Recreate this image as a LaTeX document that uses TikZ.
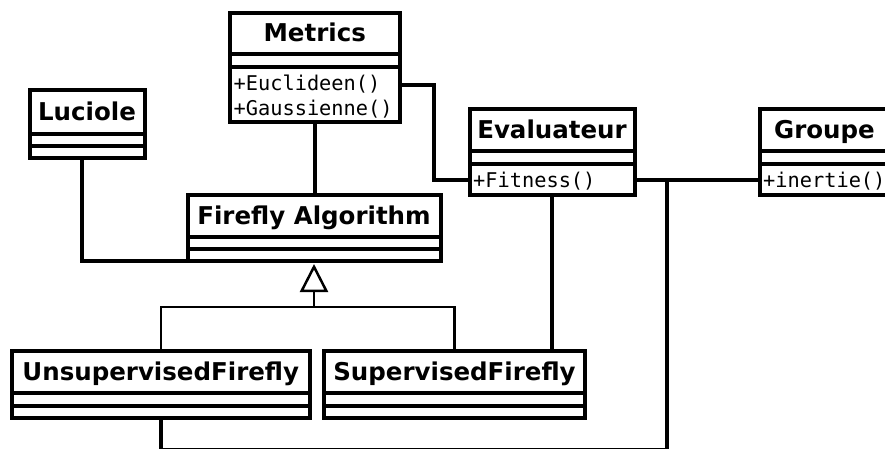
\documentclass[tikz,border=0pt]{standalone}
\usepackage{fontspec}
\usetikzlibrary{arrows.meta,fit}
\newfontfamily\titlefont{DejaVu Sans}
\newfontfamily\codefont{DejaVu Sans Mono}

\tikzset{
  classframe/.style={draw, line width=4pt, inner sep=0pt, outer sep=0pt},
  classname/.style={font=\titlefont\bfseries\fontsize{24.5}{28}\selectfont, inner sep=0pt, anchor=base},
  classop/.style={font=\codefont\fontsize{20.3}{25}\selectfont, inner sep=0pt, anchor=base west},
  assoc/.style={line width=4pt},
  generalization/.style={line width=2.5pt},
}

% UML class: name, left, right, top, name line, attribute line, bottom, title
\newcommand\umlclass[8]{%
  \node[classframe, fit={(#2,#4) (#3,#7)}] (#1) {};
  \draw[line width=4pt] (#2,#5) -- (#3,#5) (#2,#6) -- (#3,#6);
  \node[classname] (#1-name) at ({(#2+#3)/2},{(#4+#5)/2+8.9}) {#8};
}
% operations of a class: name, left, attribute line, list of operations
\newcommand\umlops[4]{%
  \foreach \op [count=\k] in {#4} {
    \node[classop] (#1-op\k) at ({#2+3.5},{#3+23+25*(\k-1)}) {\op};
  }
}

\begin{document}
\begin{tikzpicture}[x=1pt,y=-1pt]
  \useasboundingbox (0,0) rectangle (885,448);
  \clip (0,0) rectangle (885,448);

  \umlclass{metrics}{230}{399.5}{12.5}{53.5}{67}{122}{Metrics}
  \umlops{metrics}{230}{67}{{+Euclideen()},{+Gaussienne()}}

  \umlclass{luciole}{29.5}{144.5}{89.5}{134}{145.5}{158}{Luciole}

  \umlclass{evaluateur}{469.5}{634.5}{109}{151}{164}{194.5}{Evaluateur}
  \umlops{evaluateur}{469.5}{164}{{+Fitness()}}

  \umlclass{groupe}{759.5}{889.5}{109}{151}{164}{194.5}{Groupe}
  \umlops{groupe}{759.5}{164}{{+inertie()}}

  \umlclass{firefly}{187.5}{440.5}{195}{237}{249}{261}{Firefly Algorithm}

  \umlclass{unsup}{12}{309.5}{350.5}{393}{406}{418}{UnsupervisedFirefly}
  \umlclass{sup}{324}{585}{350.5}{393}{406}{418}{SupervisedFirefly}

  % bend points of the associations
  \coordinate (mbend) at (434,85);
  \coordinate (junc) at (667,179.5);
  \coordinate (bot) at (667,449.5);
  \coordinate (gj) at (314,307);

  % associations
  \draw[assoc] (metrics.south) -- (metrics.south |- firefly.north);
  \draw[assoc] ([xshift=-5pt]luciole.south) |- (firefly.south west);
  \draw[assoc] (metrics.east |- mbend) -- (mbend) |- (evaluateur.west |- junc);
  \draw[assoc] (evaluateur.east |- junc) -- (groupe.west |- junc);
  \draw[assoc] (junc) -- (bot) -| (unsup.south);
  \draw[assoc] (evaluateur.south) -- (evaluateur.south |- sup.north);

  % generalization
  \draw[generalization] (unsup.north) |- (sup.north |- gj) -- (sup.north);
  \draw[generalization, -{Triangle[open, length=28pt, width=28pt]}]
    (gj) -- ([yshift=-3pt]firefly.south);
\end{tikzpicture}
\end{document}
